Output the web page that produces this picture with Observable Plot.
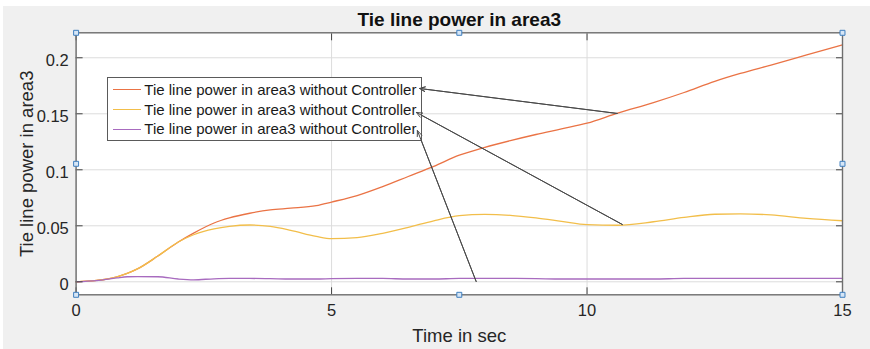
<!DOCTYPE html>
<html>
<head>
<meta charset="utf-8">
<script src="https://cdn.jsdelivr.net/npm/d3@7"></script>
<script src="https://cdn.jsdelivr.net/npm/@observablehq/plot@0.6"></script>
<style>
  html, body { margin: 0; padding: 0; background: #f0f0f0; }
  #wrap { position: relative; width: 870px; height: 349px; overflow: hidden;
          font-family: "Liberation Sans", Arial, sans-serif; }
  #wrap svg { position: absolute; left: 0; top: 0; }
  .strip { position: absolute; background: #ffffff; }
  #legend { position: absolute; left: 107px; top: 76.5px; width: 313px; height: 62px;
            border: 1px solid #5a5a5a; background: #ffffff; }
  #legend .swatch { position: absolute; left: 5.3px; width: 27.4px; height: 0; border-top: 1.3px solid; }
  #legend .label { position: absolute; left: 36.3px; font-size: 15px; line-height: 20px;
                   color: #1a1a1a; white-space: nowrap; }
</style>
</head>
<body>
<div id="wrap"></div>
<script>
// ---- data ----
const time = [0, 0.4, 0.8, 1.0, 1.2, 1.6, 2.0, 2.3, 2.7, 3.0, 3.4, 3.8, 4.2, 4.7, 5.0, 5.5, 6.0,
              6.5, 7.0, 7.5, 8.0, 8.5, 9.0, 9.5, 10.0, 10.6, 11.3, 11.9, 12.5, 13.0, 13.6, 14.3, 15.0];
const seriesOrange = [0, 0.0012, 0.0045, 0.0075, 0.0115, 0.023, 0.0355, 0.0435, 0.0525, 0.057, 0.0612, 0.0642,
                      0.0657, 0.068, 0.0712, 0.077, 0.085, 0.094, 0.103, 0.113, 0.120, 0.126, 0.1315,
                      0.1365, 0.1416, 0.1506, 0.160, 0.169, 0.179, 0.186, 0.1935, 0.2025, 0.2115];
const seriesYellow = [0, 0.0012, 0.0045, 0.0075, 0.0115, 0.023, 0.0355, 0.042, 0.0473, 0.0495, 0.0507, 0.0495,
                      0.046, 0.0405, 0.0385, 0.0394, 0.0433, 0.0486, 0.0545, 0.059, 0.0602, 0.0593, 0.057,
                      0.054, 0.051, 0.0505, 0.0536, 0.0575, 0.0603, 0.0607, 0.0597, 0.0566, 0.0545];
const seriesPurple = [0, 0.001, 0.0035, 0.0045, 0.0047, 0.0045, 0.0025, 0.0018, 0.0027, 0.003, 0.003, 0.0028,
                      0.0025, 0.0025, 0.0028, 0.003, 0.003, 0.0025, 0.0025, 0.003, 0.003, 0.003, 0.0028,
                      0.0025, 0.0025, 0.0025, 0.0025, 0.003, 0.003, 0.003, 0.003, 0.003, 0.003];
const seriesNames = ["Tie line power in area3 without Controller",
                     "Tie line power in area3 without Controller",
                     "Tie line power in area3 without Controller"];
const seriesColors = ["#ea7345", "#f2be4a", "#a86bbf"];
const xTicks = [0, 5, 10, 15];
const yTicks = [0, 0.05, 0.1, 0.15, 0.2];
const yTickLabels = ["0", "0.05", "0.1", "0.15", "0.2"];
const xDomain = [0, 15];
const yDomain = [-0.0116, 0.2223];
// annotation arrows (from a point on the curves to the legend entries)
const arrowFromT = [10.59, 10.69, 7.83];
const arrowFromV = [0.1503, 0.0512, 0.0003];
const arrowToT = [6.72, 6.66, 6.68];
const arrowToV = [0.1726, 0.1512, 0.135];
const titleText = "Tie line power in area3";
const xLabelText = "Time in sec";
const yLabelText = "Tie line power in area3";

// ---- build tables ----
const allSeries = [seriesOrange, seriesYellow, seriesPurple];
const rows = allSeries.flatMap((vals, k) => time.map((t, i) => ({t, v: vals[i], k, color: seriesColors[k]})));
const arrows = arrowFromT.map((_, i) => ({x1: arrowFromT[i], y1: arrowFromV[i], x2: arrowToT[i], y2: arrowToV[i]}));
const xMid = (xDomain[0] + xDomain[1]) / 2, yMid = (yDomain[0] + yDomain[1]) / 2;
const handles = [];
for (const hx of [xDomain[0], xMid, xDomain[1]])
  for (const hy of [yDomain[0], yMid, yDomain[1]])
    if (!(hx === xMid && hy === yMid)) handles.push({x: hx, y: hy});

const fontFamily = '"Liberation Sans", Arial, sans-serif';
const blank = () => "";

const chart = Plot.plot({
  width: 870, height: 349,
  marginLeft: 75.6, marginRight: 28, marginTop: 32.3, marginBottom: 54.7,
  x: {domain: xDomain, label: null},
  y: {domain: yDomain, label: null},
  style: {background: "transparent", fontFamily, color: "#262626", overflow: "visible"},
  marks: [
    Plot.frame({fill: "white"}),
    Plot.gridX(xTicks, {stroke: "#dcdcdc", strokeOpacity: 1}),
    Plot.gridY(yTicks, {stroke: "#dcdcdc", strokeOpacity: 1}),
    Plot.line(rows, {x: "t", y: "v", z: "k", stroke: "color", strokeWidth: 1.3, curve: "monotone-x"}),
    Plot.arrow(arrows, {x1: "x1", y1: "y1", x2: "x2", y2: "y2", stroke: "#4a4a4a", strokeWidth: 1,
                        headLength: 9, headAngle: 45}),
    Plot.axisX(xTicks, {anchor: "bottom", tickSize: 0, tickPadding: 9, fontSize: 16.5, label: null}),
    Plot.axisY(yTicks, {anchor: "left", tickSize: 0, tickPadding: 7.3, fontSize: 16.5, label: null, dy: 3,
                        tickFormat: d => yTickLabels[yTicks.indexOf(d)]}),
    Plot.axisX(xTicks, {anchor: "bottom", tickSize: -7, tickFormat: blank, label: null, stroke: "#444"}),
    Plot.axisX(xTicks, {anchor: "top", tickSize: -7, tickFormat: blank, label: null, stroke: "#444"}),
    Plot.axisY(yTicks, {anchor: "left", tickSize: -7, tickFormat: blank, label: null, stroke: "#444"}),
    Plot.axisY(yTicks, {anchor: "right", tickSize: -7, tickFormat: blank, label: null, stroke: "#444"}),
    Plot.frame({stroke: "#6e6e6e", strokeWidth: 1.4}),
    Plot.dot(handles, {x: "x", y: "y", symbol: "square", r: 2.8, fill: "#d6e6f6", stroke: "#3f7fbf", strokeWidth: 1}),
    Plot.text([titleText], {frameAnchor: "top", textAnchor: "middle", lineAnchor: "middle", dy: -13.3,
                            fontSize: 19, fontWeight: "bold", fill: "#111"}),
    Plot.text([xLabelText], {frameAnchor: "bottom", textAnchor: "middle", lineAnchor: "middle", dy: 41.6,
                             fontSize: 18.5, fill: "#262626"}),
    Plot.text([yLabelText], {frameAnchor: "left", textAnchor: "middle", lineAnchor: "middle", rotate: -90,
                             dx: -49.4, fontSize: 18.5, fill: "#262626"})
  ]
});

const wrap = document.getElementById("wrap");

// white strips along the top and left edge of the window (figure border)
const stripTop = document.createElement("div");
stripTop.className = "strip"; stripTop.style.cssText = "left:0;top:0;width:870px;height:6px;";
const stripLeft = document.createElement("div");
stripLeft.className = "strip"; stripLeft.style.cssText = "left:0;top:0;width:3px;height:349px;";
wrap.appendChild(stripTop); wrap.appendChild(stripLeft);

wrap.appendChild(chart);

// legend
const legend = document.createElement("div");
legend.id = "legend";
seriesNames.forEach((name, i) => {
  const center = 12.5 + i * 19.7;
  const sw = document.createElement("div");
  sw.className = "swatch";
  sw.style.top = (center - 0.65) + "px";
  sw.style.borderTopColor = seriesColors[i];
  const lb = document.createElement("div");
  lb.className = "label";
  lb.style.top = (center - 10) + "px";
  lb.textContent = name;
  legend.appendChild(sw); legend.appendChild(lb);
});
wrap.appendChild(legend);
// arrows sit above the legend box, as in the reference: copy the arrow layer on top
const arrowLayer = chart.querySelector('g[aria-label="arrow"]');
if (arrowLayer) {
  const overlay = chart.cloneNode(false);
  overlay.setAttribute("style", "position:absolute;left:0;top:0;background:transparent;overflow:visible;pointer-events:none");
  overlay.appendChild(arrowLayer.cloneNode(true));
  wrap.appendChild(overlay);
}
</script>
</body>
</html>
